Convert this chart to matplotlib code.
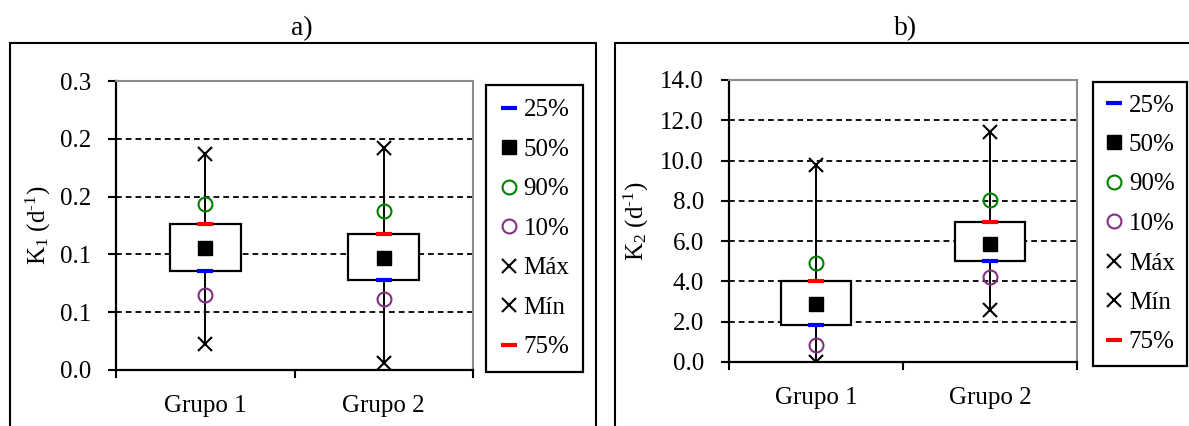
import numpy as np
import matplotlib
matplotlib.use("Agg")
import matplotlib.pyplot as plt
from matplotlib.lines import Line2D
from matplotlib.patches import Rectangle
from matplotlib.ticker import FixedLocator, FormatStrFormatter, NullFormatter

plt.rcParams["font.family"] = ["Liberation Serif", "DejaVu Serif"]
plt.rcParams["mathtext.fontset"] = "custom"
plt.rcParams["mathtext.rm"] = "Liberation Serif"
plt.rcParams["mathtext.it"] = "Liberation Serif:italic"
plt.rcParams["font.size"] = 18

# Percentile summaries per group
groups = ["Grupo 1", "Grupo 2"]

k1_min = [0.027, 0.007]
k1_p10 = [0.078, 0.074]
k1_p25 = [0.103, 0.093]
k1_p50 = [0.127, 0.116]
k1_p75 = [0.152, 0.141]
k1_p90 = [0.172, 0.165]
k1_max = [0.224, 0.230]

k2_min = [0.00, 2.56]
k2_p10 = [0.86, 4.21]
k2_p25 = [1.82, 4.99]
k2_p50 = [2.88, 5.87]
k2_p75 = [4.00, 6.94]
k2_p90 = [4.91, 8.05]
k2_max = [9.79, 11.40]

k1_ticks = [0.0, 0.06, 0.12, 0.18, 0.24, 0.30]
k2_ticks = [0.0, 2.0, 4.0, 6.0, 8.0, 10.0, 12.0, 14.0]

W, H = 1189, 426
fig = plt.figure(figsize=(W / 100, H / 100), dpi=100)

BLUE = "#0000FF"
RED = "#FF0000"
GREEN = "#008000"
PURPLE = "#80307F"

MS_DASH, MEW_DASH = 11.5, 3.0
MS_SQ = 9.5
MS_CIRC = 10.0
MS_X = 10.0


def px_rect(l, t, r, b):
    return [l / W, 1 - b / H, (r - l) / W, (b - t) / H]


def draw_panel(rect, title, title_x, ylabel, ylabel_x, ticks,
               vmin, p10, p25, p50, p75, p90, vmax, legend_xy, legend_pad):
    ax = fig.add_axes(px_rect(*rect))
    x = np.arange(len(groups)) + 0.5

    # whisker from minimum to maximum
    ax.vlines(x, vmin, vmax, color="black", lw=1.4, zorder=2)
    # interquartile box
    ax.bar(x, np.array(p75) - np.array(p25), bottom=p25, width=0.4,
           color="white", edgecolor="black", linewidth=1.6, zorder=3)

    ax.plot(x, p25, "_", color=BLUE, ms=MS_DASH, mew=MEW_DASH, zorder=5)
    ax.plot(x, p50, "s", color="black", ms=MS_SQ, zorder=5)
    ax.plot(x, p90, "o", mfc="none", mec=GREEN, ms=MS_CIRC, mew=1.5, zorder=5)
    ax.plot(x, p10, "o", mfc="none", mec=PURPLE, ms=MS_CIRC, mew=1.5, zorder=5)
    ax.plot(x, vmax, "x", color="black", ms=MS_X, mew=1.5, zorder=5)
    ax.plot(x, vmin, "x", color="black", ms=MS_X, mew=1.5, zorder=5)
    ax.plot(x, p75, "_", color=RED, ms=MS_DASH, mew=MEW_DASH, zorder=5)

    ax.set_xlim(0, len(groups))
    ax.set_ylim(ticks[0], ticks[-1])
    ax.set_yticks(ticks)
    ax.yaxis.set_major_formatter(FormatStrFormatter("%.1f"))

    ax.xaxis.set_major_locator(FixedLocator(np.arange(len(groups) + 1)))
    ax.xaxis.set_major_formatter(NullFormatter())
    ax.xaxis.set_minor_locator(FixedLocator(x))
    ax.set_xticklabels(groups, minor=True)
    ax.tick_params(axis="x", which="minor", length=0, pad=18, labelsize=18)
    ax.tick_params(axis="x", which="major", direction="out", length=6,
                   width=1.5)
    ax.tick_params(axis="y", direction="out", length=6, width=1.5, pad=12,
                   labelsize=18)

    for yv in ticks[1:-1]:
        ax.axhline(yv, color="black", lw=1.3, linestyle=(0, (3.2, 2.2)),
                   zorder=1)

    for side in ("left", "bottom"):
        ax.spines[side].set_color("black")
        ax.spines[side].set_linewidth(1.6)
    for side in ("top", "right"):
        ax.spines[side].set_color("#8C8C8C")
        ax.spines[side].set_linewidth(1.5)

    fig.text(ylabel_x / W, 1 - ((rect[1] + rect[3]) / 2) / H, ylabel,
             rotation=90, ha="center", va="center", fontsize=18)
    fig.text(title_x / W, 1 - 29 / H, title, ha="center", va="center",
             fontsize=20)

    handles = [
        Line2D([], [], ls="none", marker="_", color=BLUE, ms=MS_DASH, mew=MEW_DASH),
        Line2D([], [], ls="none", marker="s", color="black", ms=MS_SQ),
        Line2D([], [], ls="none", marker="o", mfc="none", mec=GREEN, ms=MS_CIRC, mew=1.5),
        Line2D([], [], ls="none", marker="o", mfc="none", mec=PURPLE, ms=MS_CIRC, mew=1.5),
        Line2D([], [], ls="none", marker="x", color="black", ms=MS_X, mew=1.5),
        Line2D([], [], ls="none", marker="x", color="black", ms=MS_X, mew=1.5),
        Line2D([], [], ls="none", marker="_", color=RED, ms=MS_DASH, mew=MEW_DASH),
    ]
    labels = ["25%", "50%", "90%", "10%", "Máx", "Mín", "75%"]
    leg = fig.legend(handles, labels, loc="upper left",
                     bbox_to_anchor=(legend_xy[0] / W, 1 - legend_xy[1] / H),
                     bbox_transform=fig.transFigure, fontsize=18,
                     frameon=True, fancybox=False, shadow=False,
                     framealpha=1.0,
                     handlelength=0.7, handletextpad=0.25,
                     borderpad=legend_pad, labelspacing=0.68, borderaxespad=0)
    leg.get_frame().set_edgecolor("black")
    leg.get_frame().set_linewidth(1.6)
    return ax


# outer panel frames
fig.add_artist(Rectangle((10 / W, -0.05), (596 - 10) / W, 1 - 43 / H + 0.05,
                         transform=fig.transFigure, fill=False,
                         edgecolor="black", lw=1.5))
fig.add_artist(Rectangle((615 / W, -0.05), (1200 - 615) / W, 1 - 43 / H + 0.05,
                         transform=fig.transFigure, fill=False,
                         edgecolor="black", lw=1.5))

draw_panel((116, 81, 473, 370), "a)", 302, r"K$_1$ (d$^{\text{-1}}$)", 38,
           k1_ticks, k1_min, k1_p10, k1_p25, k1_p50, k1_p75, k1_p90, k1_max,
           (486, 85), 0.55)
draw_panel((729, 80, 1077, 362), "b)", 906, r"K$_2$ (d$^{\text{-1}}$)", 636,
           k2_ticks, k2_min, k2_p10, k2_p25, k2_p50, k2_p75, k2_p90, k2_max,
           (1093, 82), 0.48)

fig.savefig("out.png", dpi=100)
